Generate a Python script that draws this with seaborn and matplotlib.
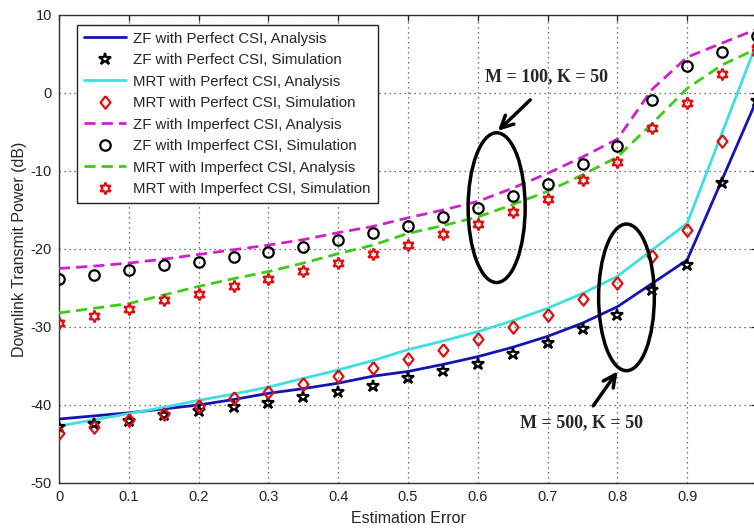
import numpy as np
import pandas as pd
import matplotlib
matplotlib.use("Agg")
import matplotlib.pyplot as plt
from matplotlib.patches import Ellipse
import seaborn as sns

# ---------------- data ----------------
est_error = [0.0, 0.05, 0.1, 0.15, 0.2, 0.25, 0.3, 0.35, 0.4, 0.45, 0.5,
             0.55, 0.6, 0.65, 0.7, 0.75, 0.8, 0.85, 0.9, 0.95, 1.0]

zf_perf_ana = [-41.8, -41.4, -41.0, -40.5, -40.0, -39.3, -38.5, -37.9, -37.2, -36.3, -35.7,
               -34.8, -33.8, -32.6, -31.2, -29.5, -27.4, -24.4, -21.4, -11.1, -0.8]
zf_perf_sim = [-42.8, -42.4, -42.1, -41.3, -40.8, -40.2, -39.7, -39.0, -38.3, -37.6, -36.5,
               -35.7, -34.7, -33.4, -32.1, -30.3, -28.5, -25.3, -22.1, -11.5, -1.0]
mrt_perf_ana = [-42.7, -41.9, -41.1, -40.3, -39.4, -38.6, -37.7, -36.6, -35.5, -34.3, -32.9,
                -31.8, -30.6, -29.2, -27.6, -25.7, -23.5, -20.1, -16.7, -5.1, 6.5]
mrt_perf_sim = [-43.6, -42.8, -41.9, -41.1, -40.1, -39.1, -38.3, -37.3, -36.3, -35.2, -34.1,
                -32.9, -31.6, -30.0, -28.5, -26.4, -24.3, -20.9, -17.6, -6.1, 6.0]
zf_imp_ana = [-22.5, -22.2, -21.8, -21.3, -20.7, -20.1, -19.5, -18.8, -17.9, -17.1, -16.0,
              -15.0, -13.9, -12.2, -10.3, -8.2, -5.9, 0.5, 4.6, 6.4, 8.2]
zf_imp_sim = [-23.8, -23.3, -22.7, -22.1, -21.7, -21.0, -20.4, -19.7, -18.8, -18.0, -17.1,
              -15.9, -14.8, -13.2, -11.7, -9.1, -6.8, -0.9, 3.4, 5.2, 7.3]
mrt_imp_ana = [-28.2, -27.6, -27.0, -25.9, -24.8, -23.8, -22.9, -21.8, -20.6, -19.5, -18.0,
               -17.0, -15.9, -14.3, -12.6, -10.5, -8.2, -3.9, 0.6, 3.6, 5.7]
mrt_imp_sim = [-29.5, -28.6, -27.7, -26.6, -25.8, -24.8, -23.8, -22.8, -21.8, -20.6, -19.5,
               -18.1, -16.8, -15.2, -13.6, -11.2, -8.8, -4.5, -1.3, 2.5, 5.3]

labels = ["ZF with Perfect CSI, Analysis", "ZF with Perfect CSI, Simulation",
          "MRT with Perfect CSI, Analysis", "MRT with Perfect CSI, Simulation",
          "ZF with Imperfect CSI, Analysis", "ZF with Imperfect CSI, Simulation",
          "MRT with Imperfect CSI, Analysis", "MRT with Imperfect CSI, Simulation"]

x_ticks = [0, 0.1, 0.2, 0.3, 0.4, 0.5, 0.6, 0.7, 0.8, 0.9]
x_tick_labels = ["0", "0.1", "0.2", "0.3", "0.4", "0.5", "0.6", "0.7", "0.8", "0.9"]
y_ticks = [-50, -40, -30, -20, -10, 0, 10]

# ---------------- style ----------------
sns.set_style("white")
plt.rcParams["font.family"] = ["Liberation Sans", "DejaVu Sans"]
plt.rcParams["axes.unicode_minus"] = False

fig = plt.figure(figsize=(7.54, 5.3), dpi=100)
ax = fig.add_axes([59 / 754, 1 - 483 / 530, 698 / 754, 468 / 530])

df = pd.DataFrame({"x": est_error})

diamond = [(0, 1), (0.8, 0), (0, -1), (-0.8, 0), (0, 1)]

specs = [
    (zf_perf_ana, labels[0], "line", dict(color="#1414b4", linestyle="-", linewidth=2.0)),
    (zf_perf_sim, labels[1], "mark", dict(marker="*", color="black", markersize=9)),
    (mrt_perf_ana, labels[2], "line", dict(color="#3ee0e0", linestyle="-", linewidth=2.0)),
    (mrt_perf_sim, labels[3], "mark", dict(marker=diamond, color="#dd1111", markersize=9)),
    (zf_imp_ana, labels[4], "line", dict(color="#d21ed2", linestyle=(0, (4, 2.2)), linewidth=2.0)),
    (zf_imp_sim, labels[5], "mark", dict(marker="o", color="black", markersize=7.5)),
    (mrt_imp_ana, labels[6], "line", dict(color="#3ccc14", linestyle=(0, (4, 2.2)), linewidth=2.0)),
    (mrt_imp_sim, labels[7], "mark", dict(marker=(6, 1, 0), color="#dd1111", markersize=8.5)),
]

for vals, lab, kind, st in specs:
    d = df.assign(y=vals)
    if kind == "line":
        sns.lineplot(data=d, x="x", y="y", ax=ax, label=lab, color=st["color"],
                     linestyle=st["linestyle"], linewidth=st["linewidth"], zorder=3)
    else:
        sns.lineplot(data=d, x="x", y="y", ax=ax, label=lab, linestyle="",
                     marker=st["marker"], markersize=st["markersize"],
                     markerfacecolor="none", markeredgecolor=st["color"],
                     markeredgewidth=1.6, color=st["color"], zorder=4)

ax.set_xlim(0, 1)
ax.set_ylim(-50, 10)
ax.set_xticks(x_ticks)
ax.set_xticklabels(x_tick_labels)
ax.set_yticks(y_ticks)
ax.grid(True, linestyle=(0, (1, 3)), color="#444444", linewidth=0.9)
ax.tick_params(direction="in", top=True, right=True, length=4, width=0.9,
               labelsize=10.5, colors="#222222", pad=5)
for sp in ax.spines.values():
    sp.set_color("#333333")
    sp.set_linewidth(1.0)

ax.set_xlabel("Estimation Error", fontsize=11.5, labelpad=5)
ax.set_ylabel("Downlink Transmit Power (dB)", fontsize=11.5, labelpad=3)

leg = ax.legend(loc="upper left", bbox_to_anchor=(0.0258, 0.979), borderaxespad=0,
                fontsize=10.8, frameon=True, fancybox=False, edgecolor="#222222",
                handlelength=2.8, handletextpad=0.5, labelspacing=0.5,
                borderpad=0.45)
leg.get_frame().set_linewidth(1.0)
leg.get_frame().set_alpha(1)

# annotations
ax.add_patch(Ellipse((0.627, -14.7), 0.0817, 19.2, fill=False, lw=2.5, color="black", zorder=5))
ax.add_patch(Ellipse((0.813, -26.2), 0.0798, 18.8, fill=False, lw=2.5, color="black", zorder=5))
ax.annotate("", xy=(0.626, -5.1), xytext=(0.678, -0.64),
            arrowprops=dict(arrowstyle="->", lw=2.5, color="black", mutation_scale=22))
ax.annotate("", xy=(0.8025, -35.4), xytext=(0.763, -40.4),
            arrowprops=dict(arrowstyle="->", lw=2.5, color="black", mutation_scale=22))
ax.text(0.698, 2.05, "M = 100, K = 50", ha="center", va="center", fontsize=13,
        fontweight="bold", family=["Liberation Serif", "DejaVu Serif"])
ax.text(0.749, -42.3, "M = 500, K = 50", ha="center", va="center", fontsize=13,
        fontweight="bold", family=["Liberation Serif", "DejaVu Serif"])

fig.savefig("out.png", dpi=100)
